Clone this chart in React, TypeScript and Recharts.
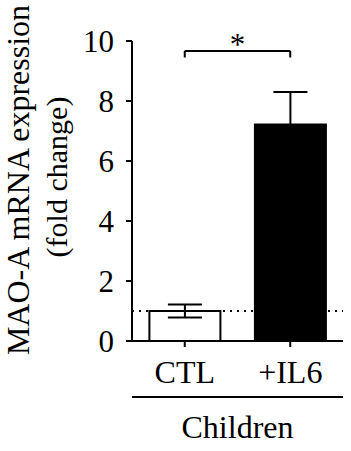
import React from 'react';
import { BarChart, Bar, XAxis, YAxis, ErrorBar, Cell, ReferenceLine, Label } from 'recharts';

// values
const categories = ['CTL', '+IL6'];
const foldChange = [1.0, 7.22];
const sem = [0.22, 1.08];
const barColors = ['#ffffff', '#000000'];
const groupName = 'Children';
const yTicks = [0, 2, 4, 6, 8, 10];
const baselineLevel = 1;
const bracketLevel = 9.67;
const bracketDrop = 9.45;
const significance = '*';

const data = categories.map((name, i) => ({
  name,
  value: foldChange[i],
  sem: sem[i],
  group: groupName,
}));

const FONT = '"Liberation Serif", "Times New Roman", serif';

const YTitle = ({ viewBox }: any) => {
  const { x, y, height } = viewBox;
  const cy = y + height / 2;
  const x1 = x + 29;
  const x2 = x + 67;
  const y1 = cy - 11;
  const y2 = cy - 14;
  return (
    <g fontFamily={FONT} fill="#000">
      <text x={x1} y={y1} fontSize={32} textAnchor="middle" transform={`rotate(-90 ${x1} ${y1})`}>
        MAO-A mRNA expression
      </text>
      <text x={x2} y={y2} fontSize={30} textAnchor="middle" transform={`rotate(-90 ${x2} ${y2})`}>
        (fold change)
      </text>
    </g>
  );
};

const Star = ({ viewBox }: any) => (
  <text
    x={viewBox.x + viewBox.width / 2}
    y={viewBox.y + 4}
    textAnchor="middle"
    fontSize={31}
    fontFamily={FONT}
    fill="#000"
  >
    {significance}
  </text>
);

const GroupTick = ({ x, y, payload }: any) => (
  <text x={x} y={y} dy={21} textAnchor="middle" fontSize={32} fontFamily={FONT} fill="#000">
    {payload.value}
  </text>
);

const App = () => {
  return (
    <div style={{ position: 'absolute', left: 0, top: 0, background: '#fff' }}>
      <BarChart
        width={351}
        height={451}
        data={data}
        margin={{ top: 41, right: 8, left: 0, bottom: 0 }}
        barCategoryGap="16.5%"
      >
        <YAxis
          width={132}
          domain={[0, 10]}
          ticks={yTicks}
          interval={0}
          tickSize={6}
          tickMargin={12}
          axisLine={{ stroke: '#000', strokeWidth: 2 }}
          tickLine={{ stroke: '#000', strokeWidth: 2 }}
          tick={{ fontSize: 31, fill: '#000', fontFamily: FONT }}
        >
          <Label content={<YTitle />} />
        </YAxis>
        <XAxis
          dataKey="name"
          height={56}
          tickSize={6}
          tickMargin={13}
          axisLine={{ stroke: '#000', strokeWidth: 2 }}
          tickLine={{ stroke: '#000', strokeWidth: 2 }}
          tick={{ fontSize: 32, fill: '#000', fontFamily: FONT }}
        />
        <XAxis
          xAxisId="group"
          dataKey="group"
          allowDuplicatedCategory={false}
          height={54}
          tickSize={0}
          tickMargin={20}
          tickLine={false}
          axisLine={{ stroke: '#000', strokeWidth: 2 }}
          tick={<GroupTick />}
        />
        <ReferenceLine
          y={baselineLevel}
          stroke="#000"
          strokeWidth={2}
          strokeDasharray="2 5"
        />
        <Bar dataKey="value" stroke="#000" strokeWidth={2} isAnimationActive={false}>
          {data.map((d, i) => (
            <Cell key={d.name} fill={barColors[i]} />
          ))}
          <ErrorBar dataKey="sem" width={17} stroke="#000" strokeWidth={2} direction="y" />
        </Bar>
        <ReferenceLine
          segment={[
            { x: categories[0], y: bracketLevel },
            { x: categories[1], y: bracketLevel },
          ]}
          stroke="#000"
          strokeWidth={2}
          ifOverflow="visible"
          label={<Star />}
        />
        <ReferenceLine
          segment={[
            { x: categories[0], y: bracketLevel },
            { x: categories[0], y: bracketDrop },
          ]}
          stroke="#000"
          strokeWidth={2}
          ifOverflow="visible"
        />
        <ReferenceLine
          segment={[
            { x: categories[1], y: bracketLevel },
            { x: categories[1], y: bracketDrop },
          ]}
          stroke="#000"
          strokeWidth={2}
          ifOverflow="visible"
        />
      </BarChart>
    </div>
  );
};

export default App;
